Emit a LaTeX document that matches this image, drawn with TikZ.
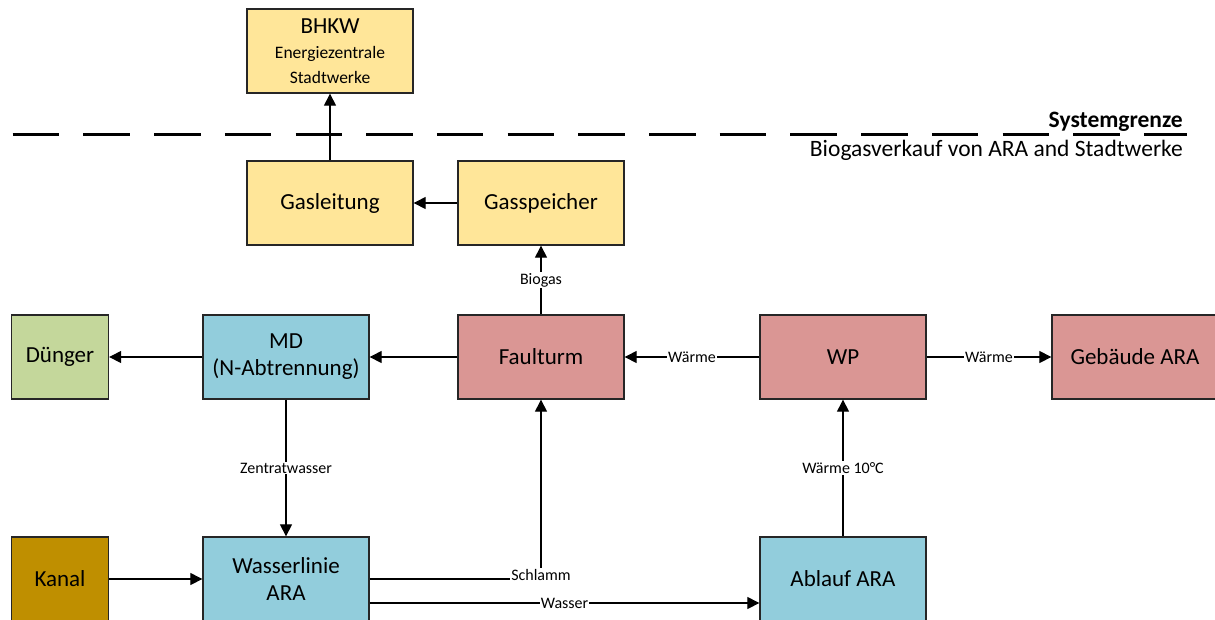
\documentclass[tikz,border=0pt]{standalone}
\usepackage{fontspec}
\setmainfont{Carlito}
\usepackage{tikz}
\usetikzlibrary{arrows.meta}

\definecolor{ylw}{HTML}{FFE699}
\definecolor{grn}{HTML}{C4D79B}
\definecolor{blu}{HTML}{92CDDC}
\definecolor{rot}{HTML}{DA9694}
\definecolor{brn}{HTML}{BF8F00}

\begin{document}
\begin{tikzpicture}[x=1pt,y=-1pt,
	box/.style={draw=black!85, line width=1.3pt, minimum width=166pt, minimum height=84pt,
		align=center, font=\fontsize{23}{27}\selectfont},
	smallbox/.style={box, minimum width=97pt},
	arr/.style={line width=1.1pt, -{Triangle[length=12pt,width=12pt]}},
	lbl/.style={fill=white, inner sep=1pt, font=\fontsize{16}{19}\selectfont}]
	\useasboundingbox (0,0) rectangle (1215,619);
	
	% Systemgrenze
	\coordinate (sgl) at (12.7,134);
	\coordinate (sgr) at (1187,134);
	\draw[line width=3pt, dash pattern=on 46.5pt off 24.2pt] (sgl) -- (sgr);
	\node[anchor=base east, inner sep=0pt, font=\fontsize{23.5}{26}\selectfont\bfseries] (sg) at (1183,127) {Systemgrenze};
	\node[anchor=base east, inner sep=0pt, font=\fontsize{23.5}{26}\selectfont] (verkauf) at (1183,156) {Biogasverkauf von ARA and Stadtwerke};
	
	%-------------------------------------
	\node[box, fill=ylw, font=\fontsize{17.5}{25}\selectfont] (bhkw) at (330,51) {{\fontsize{23}{25}\selectfont BHKW}\\Energiezentrale\\Stadtwerke};
	\node[box, fill=ylw] (gasleitung) at (330,203) {Gasleitung};
	\node[box, fill=ylw] (gasspeicher) at (541,203) {Gasspeicher};
	
	\node[smallbox, fill=grn] (duenger) at (60,357) {Dünger};
	\node[box, fill=blu] (md) at (286,357) {MD\\(N-Abtrennung)};
	\node[box, fill=rot] (faulturm) at (541,357) {Faulturm};
	\node[box, fill=rot] (wp) at (843,357) {WP};
	\node[box, fill=rot] (gebaeude) at (1135,357) {Gebäude ARA};
	
	\node[smallbox, fill=brn] (kanal) at (60,579) {Kanal};
	\node[box, fill=blu] (wasserlinie) at (286,579) {Wasserlinie\\ARA};
	\node[box, fill=blu] (ablauf) at (843,579) {Ablauf ARA};
	
	%-------------------------------------
	\draw[arr] (gasleitung) -- (bhkw);
	\draw[arr] (gasspeicher) -- (gasleitung);
	\draw[arr] (faulturm) -- node[lbl]{Biogas} (gasspeicher);
	\draw[arr] (faulturm) -- (md);
	\draw[arr] (md) -- (duenger);
	\draw[arr] (wp) -- node[lbl]{Wärme} (faulturm);
	\draw[arr] (wp) -- node[lbl]{Wärme} (gebaeude);
	\draw[arr] (md) -- node[lbl]{Zentratwasser} (wasserlinie);
	\draw[arr] (kanal) -- (wasserlinie);
	\draw[arr] (ablauf) -- node[lbl]{Wärme 10°C} (wp);
	
	\node[lbl, anchor=base] (schlamm) at (541,580) {Schlamm};
	\draw[line width=1.1pt] (wasserlinie.east) -- (wasserlinie.east -| schlamm.west);
	\draw[arr] (schlamm) -- (faulturm);
	\draw[arr] ([yshift=-24pt]wasserlinie.east) -- node[lbl]{Wasser} ([yshift=-24pt]ablauf.west);
	
\end{tikzpicture}
\end{document}
